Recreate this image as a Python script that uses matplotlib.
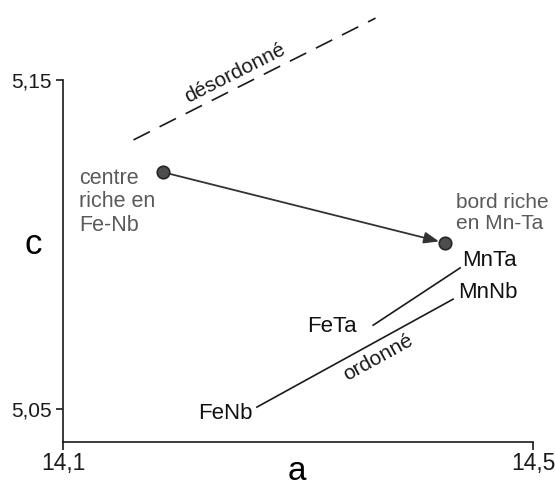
import matplotlib
matplotlib.use("Agg")
import matplotlib.pyplot as plt

plt.rcParams['font.family'] = ['Liberation Sans', 'DejaVu Sans']

# ---- data ----
x_ticks = [14.1, 14.5]
x_tick_labels = ["14,1", "14,5"]
y_ticks = [5.05, 5.15]
y_tick_labels = ["5,05", "5,15"]

# zoning path: centre (Fe-Nb rich) -> rim (Mn-Ta rich)
zone_a = [14.185, 14.425]
zone_c = [5.1220, 5.1005]

# disordered trend (dashed)
disorder_a = [14.160, 14.366]
disorder_c = [5.1318, 5.1688]

# ordered trends
ta_a = [14.364, 14.438]
ta_c = [5.0755, 5.0929]
nb_a = [14.265, 14.432]
nb_c = [5.0506, 5.0834]

end_labels = ["FeNb", "MnNb", "FeTa", "MnTa"]
end_a = [14.2617, 14.4362, 14.3502, 14.4396]
end_c = [5.0488, 5.0853, 5.0752, 5.0953]
end_ha = ["right", "left", "right", "left"]

fig = plt.figure(figsize=(5.55, 4.83), dpi=100)
ax = fig.add_axes([63/555, 41/483, 470/555, 362/483])
ax.set_xlim(14.1, 14.5)
ax.set_ylim(5.04, 5.15)

for s in ['top', 'right']:
    ax.spines[s].set_visible(False)
for s in ['left', 'bottom']:
    ax.spines[s].set_linewidth(1.2)
    ax.spines[s].set_color('#1a1a1a')

ax.set_xticks(x_ticks)
ax.set_xticklabels(x_tick_labels, fontsize=16.5)
ax.set_yticks(y_ticks)
ax.set_yticklabels(y_tick_labels, fontsize=15)
ax.tick_params(axis='x', direction='out', length=6, width=1.2, pad=1, colors='#1a1a1a')
ax.tick_params(axis='y', direction='out', length=5, width=1.2, pad=3, colors='#1a1a1a')

ax.set_ylabel('c', rotation=0, fontsize=25)
ax.yaxis.set_label_coords(-0.064, 0.50)
ax.set_xlabel('a', fontsize=24)
ax.xaxis.set_label_coords(0.498, -0.038)
ax.xaxis.label.set_va('top')

# dashed disordered line
ax.plot(disorder_a, disorder_c, color='#1a1a1a', lw=1.2,
        linestyle=(0, (11, 6.5)), clip_on=False)
ax.text(14.246, 5.1521, 'désordonné', rotation=26.8, fontsize=15,
        ha='center', va='center', rotation_mode='anchor', color='#1a1a1a')

# ordered lines
ax.plot(ta_a, ta_c, color='#1a1a1a', lw=1.2)
ax.plot(nb_a, nb_c, color='#1a1a1a', lw=1.2)
ax.text(14.368, 5.0655, 'ordonné', rotation=28.9, fontsize=15,
        ha='center', va='center', rotation_mode='anchor', color='#1a1a1a')

for lab, xa, yc, ha in zip(end_labels, end_a, end_c, end_ha):
    ax.text(xa, yc, lab, fontsize=16, ha=ha, va='center', color='#111111')

# zoning arrow
ax.annotate('', xy=(zone_a[1] - 0.005, zone_c[1] + 0.00045),
            xytext=(zone_a[0], zone_c[0]),
            arrowprops=dict(arrowstyle='-|>,head_length=0.9,head_width=0.35',
                            color='#333333', lw=1.3, shrinkA=0, shrinkB=0))
ax.plot(zone_a, zone_c, 'o', ms=9, color='#4d4d4d', mec='#262626', mew=1.2,
        zorder=5)

ax.text(14.1136, 5.1130, 'centre\nriche en\nFe-Nb', fontsize=15.5, color='#5a5a5a',
        ha='left', va='center', linespacing=1.15)
ax.text(14.4345, 5.1096, 'bord riche\nen Mn-Ta', fontsize=15, color='#5a5a5a',
        ha='left', va='center', linespacing=1.1)

fig.savefig('out.png', dpi=100)
